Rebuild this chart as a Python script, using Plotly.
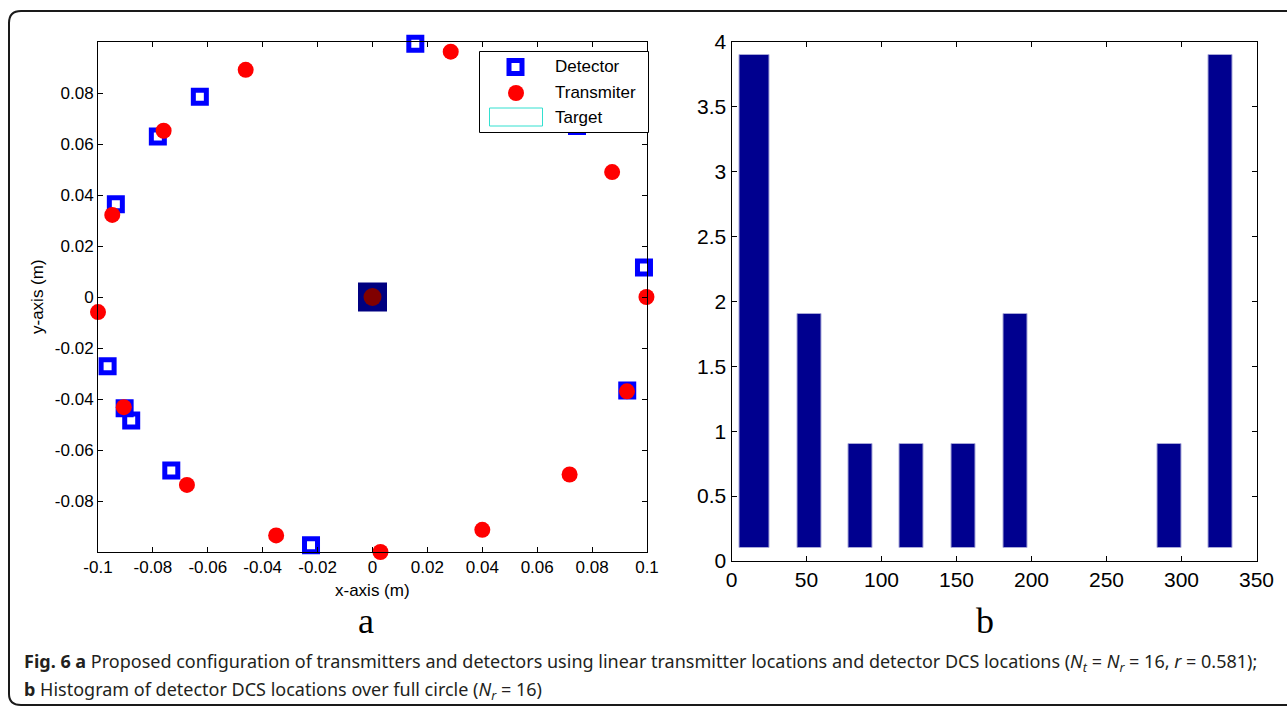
import plotly.graph_objects as go

W, H = 1287, 706

# Panel a: detector and transmitter positions on the ring (metres)
det_x = [0.0156, -0.0629, -0.0782, -0.0935, -0.1002, -0.1002, -0.0965,
         -0.0903, -0.0879, -0.0733, -0.0224, 0.0928, 0.0989, 0.0745]
det_y = [0.0993, 0.0785, 0.0629, 0.0364, 0.0091, 0.0009, -0.0272,
         -0.0436, -0.0484, -0.0680, -0.0974, -0.0367, 0.0116, 0.0671]

tx_x = [0.0285, 0.0873, 0.0998, 0.0927, 0.0718, 0.0400, 0.0029,
        -0.0351, -0.0676, -0.0906, -0.1000, -0.0948, -0.0761, -0.0462]
tx_y = [0.0962, 0.0490, 0.0000, -0.0370, -0.0696, -0.0913, -0.1000,
        -0.0935, -0.0737, -0.0432, -0.0059, 0.0322, 0.0652, 0.0891]

target_x = [0.0]
target_y = [0.0]

x_ticks = [-0.1, -0.08, -0.06, -0.04, -0.02, 0, 0.02, 0.04, 0.06, 0.08, 0.1]
x_tick_text = ["-0.1", "-0.08", "-0.06", "-0.04", "-0.02", "0",
               "0.02", "0.04", "0.06", "0.08", "0.1"]
y_ticks = [-0.08, -0.06, -0.04, -0.02, 0, 0.02, 0.04, 0.06, 0.08]
y_tick_text = ["-0.08", "-0.06", "-0.04", "-0.02", "0",
               "0.02", "0.04", "0.06", "0.08"]

# Panel b: histogram of detector DCS angles (degrees)
bin_centers = [15.6, 52.1, 86.2, 120.3, 154.7, 189.0, 223.5, 258.0, 291.7, 326.2]
counts = [4, 2, 1, 1, 1, 2, 0, 0, 1, 4]

hx_ticks = [0, 50, 100, 150, 200, 250, 300, 350]
hy_ticks = [0, 0.5, 1, 1.5, 2, 2.5, 3, 3.5, 4]
hy_tick_text = ["0", "0.5", "1", "1.5", "2", "2.5", "3", "3.5", "4"]


def px(x):
    return x / W


def py(y):
    return 1 - y / H


AXIS_FONT = "Liberation Sans, Arial, sans-serif"
fig = go.Figure()

# target patch with its centre marker
fig.add_trace(go.Scatter(
    x=target_x, y=target_y, mode="markers", cliponaxis=False,
    marker=dict(symbol="square", size=29, color="#000080"),
    xaxis="x", yaxis="y", showlegend=False, hoverinfo="skip"))
fig.add_trace(go.Scatter(
    x=target_x, y=target_y, mode="markers", cliponaxis=False,
    marker=dict(symbol="circle", size=18, color="#800000"),
    xaxis="x", yaxis="y", showlegend=False, hoverinfo="skip"))

fig.add_trace(go.Scatter(
    x=det_x, y=det_y, mode="markers", name="Detector", cliponaxis=False,
    marker=dict(symbol="square-open", size=13, color="#0000ff",
                line=dict(width=5, color="#0000ff")),
    xaxis="x", yaxis="y", showlegend=False))
fig.add_trace(go.Scatter(
    x=tx_x, y=tx_y, mode="markers", name="Transmiter", cliponaxis=False,
    marker=dict(symbol="circle", size=16, color="#ff0000"),
    xaxis="x", yaxis="y", showlegend=False))

# histogram bars (MATLAB-style bars inset 0.1 from the bin count)
nz = [i for i, c in enumerate(counts) if c > 0]
bar_widths = [20 if i == 0 else 16 for i in nz]
fig.add_trace(go.Bar(
    x=[bin_centers[i] for i in nz],
    y=[counts[i] - 0.2 for i in nz],
    base=0.1, width=bar_widths,
    marker=dict(color="#00008f", line=dict(color="#a8a8d8", width=1)),
    xaxis="x2", yaxis="y2", showlegend=False))

# legend box for panel a, drawn in a full-figure pixel overlay
lg_l, lg_r, lg_t, lg_b = 479.5, 648.5, 51.5, 132.5
fig.add_trace(go.Scatter(
    x=[lg_l, lg_r, lg_r, lg_l, lg_l], y=[lg_t, lg_t, lg_b, lg_b, lg_t],
    mode="lines", fill="toself", fillcolor="white",
    line=dict(color="black", width=1),
    xaxis="x3", yaxis="y3", showlegend=False, hoverinfo="skip"))
fig.add_trace(go.Scatter(
    x=[515.5], y=[67], mode="markers",
    marker=dict(symbol="square-open", size=13, color="#0000ff",
                line=dict(width=5, color="#0000ff")),
    xaxis="x3", yaxis="y3", showlegend=False, hoverinfo="skip"))
fig.add_trace(go.Scatter(
    x=[516], y=[93], mode="markers",
    marker=dict(symbol="circle", size=16, color="#ff0000"),
    xaxis="x3", yaxis="y3", showlegend=False, hoverinfo="skip"))
fig.add_trace(go.Scatter(
    x=[489.5, 542.5, 542.5, 489.5, 489.5], y=[108, 108, 126, 126, 108],
    mode="lines", line=dict(color="#33e0d0", width=1),
    xaxis="x3", yaxis="y3", showlegend=False, hoverinfo="skip"))

common = dict(showline=True, linecolor="black", linewidth=1, mirror="ticks",
              ticks="inside", ticklen=5, tickwidth=1, tickcolor="black",
              showgrid=False, zeroline=False, automargin=False)

annotations = []
for txt, yy in (("Detector", 67), ("Transmiter", 93), ("Target", 118)):
    annotations.append(dict(
        text=txt, x=px(553), y=py(yy), xref="paper", yref="paper",
        xanchor="left", yanchor="middle", showarrow=False,
        font=dict(family=AXIS_FONT, size=17, color="black")))

annotations += [
    dict(text="x-axis (m)", x=px(373), y=py(590), xref="paper", yref="paper",
         xanchor="center", yanchor="middle", showarrow=False,
         font=dict(family=AXIS_FONT, size=17, color="black")),
    dict(text="y-axis (m)", x=px(38), y=py(297), xref="paper", yref="paper",
         xanchor="center", yanchor="middle", showarrow=False, textangle=-90,
         font=dict(family=AXIS_FONT, size=17, color="black")),
    dict(text="a", x=px(366), y=py(621), xref="paper", yref="paper",
         xanchor="center", yanchor="middle", showarrow=False,
         font=dict(family="Liberation Serif, Times New Roman, serif",
                   size=36, color="black")),
    dict(text="b", x=px(985), y=py(621), xref="paper", yref="paper",
         xanchor="center", yanchor="middle", showarrow=False,
         font=dict(family="Liberation Serif, Times New Roman, serif",
                   size=36, color="black")),
]

CAP_FONT = "Noto Sans, Open Sans, sans-serif"
cap1 = ("<b>Fig. 6 a</b> Proposed configuration of transmitters and detectors "
        "using linear transmitter locations and detector DCS locations "
        "(<i>N</i><sub><i>t</i></sub> = <i>N</i><sub><i>r</i></sub> = 16, "
        "<i>r</i> = 0.581);")
cap2 = ("<b>b</b> Histogram of detector DCS locations over full circle "
        "(<i>N</i><sub><i>r</i></sub> = 16)")
annotations += [
    dict(text=cap1, x=px(22), y=py(662), xref="paper", yref="paper",
         xanchor="left", yanchor="middle", showarrow=False,
         font=dict(family=CAP_FONT, size=18, color="#231f20")),
    dict(text=cap2, x=px(22), y=py(690), xref="paper", yref="paper",
         xanchor="left", yanchor="middle", showarrow=False,
         font=dict(family=CAP_FONT, size=18, color="#231f20")),
]

# rounded frame around the figure
frame = dict(
    type="path", xref="paper", yref="paper", layer="above",
    path=(f"M {px(1290)} {py(11)} L {px(21)} {py(11)} "
          f"Q {px(9)} {py(11)} {px(9)} {py(23)} "
          f"L {px(9)} {py(694)} Q {px(9)} {py(705)} {px(21)} {py(705)} "
          f"L {px(1290)} {py(705)}"),
    line=dict(color="#1a1a1a", width=2))

fig.update_layout(
    template="none",
    width=W, height=H, autosize=False,
    margin=dict(l=0, r=0, t=0, b=0, pad=0),
    paper_bgcolor="white", plot_bgcolor="rgba(0,0,0,0)",
    showlegend=False,
    xaxis=dict(domain=[px(98), px(647)], range=[-0.1, 0.1],
               tickvals=x_ticks, ticktext=x_tick_text,
               tickfont=dict(family=AXIS_FONT, size=17, color="black"),
               anchor="y", **common),
    yaxis=dict(domain=[py(552), py(42)], range=[-0.1, 0.1],
               tickvals=y_ticks, ticktext=y_tick_text,
               tickfont=dict(family=AXIS_FONT, size=17, color="black"),
               anchor="x", **common),
    xaxis2=dict(domain=[px(731.5), px(1256.5)], range=[0, 350],
                tickvals=hx_ticks,
                tickfont=dict(family=AXIS_FONT, size=21, color="black"),
                anchor="y2", **common),
    yaxis2=dict(domain=[py(561), py(42)], range=[0, 4],
                tickvals=hy_ticks, ticktext=hy_tick_text,
                tickfont=dict(family=AXIS_FONT, size=21, color="black"),
                anchor="x2", **common),
    xaxis3=dict(domain=[0, 1], range=[0, W], visible=False, anchor="y3",
                fixedrange=True, automargin=False),
    yaxis3=dict(domain=[0, 1], range=[H, 0], visible=False, anchor="x3",
                fixedrange=True, automargin=False),
    annotations=annotations,
    shapes=[frame],
    bargap=0,
)

fig.write_html("out.html")
